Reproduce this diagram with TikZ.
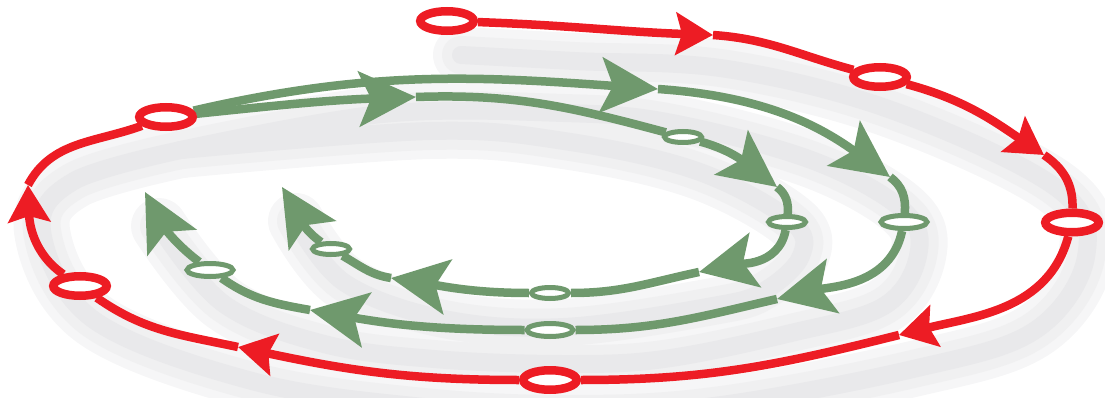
\documentclass[tikz,border=0pt]{standalone}
\usetikzlibrary{arrows.meta,shapes.geometric}
\definecolor{spred}{HTML}{ED1C24}
\definecolor{spgreen}{HTML}{6F996D}
\definecolor{shadeA}{HTML}{F6F6F7}
\definecolor{shadeB}{HTML}{F0F0F1}
\definecolor{shadeC}{HTML}{E9E9EB}
\pgfdeclarelayer{shadowlayer}
\pgfdeclarelayer{linelayer}
\pgfsetlayers{shadowlayer,linelayer,main}
\tikzset{
  redline/.style={draw=spred, line width=8.5pt},
  greenline/.style={draw=spgreen, line width=8.5pt},
  redtip/.style={-{Stealth[length=37pt,width=42pt,inset=6pt]}},
  greentip/.style={-{Stealth[length=57pt,width=55pt,inset=12pt]}},
  redring/.style={ellipse, draw=spred, line width=8.5pt, fill=white, minimum width=53.5pt, minimum height=19.5pt, inner sep=0pt},
  outring/.style={ellipse, draw=spgreen, line width=5pt, fill=white, minimum width=46pt, minimum height=13pt, inner sep=0pt},
  inring/.style={ellipse, draw=spgreen, line width=5pt, fill=white, minimum width=37pt, minimum height=11pt, inner sep=0pt},
  shadeline/.style={line cap=round, line join=round},
}
\begin{document}
\begin{tikzpicture}[x=1pt,y=1pt]
\useasboundingbox (0,0) rectangle (1105,397);
% rings
\node[redring] (R1) at (447,376) {};
\node[redring] (R2) at (880,320) {};
\node[redring] (R3) at (1072,174.5) {};
\node[redring] (R4) at (550,17) {};
\node[redring] (R5) at (80,111) {};
\node[redring] (R6) at (166,280) {};
\node[outring] (G1) at (904,175) {};
\node[outring] (G2) at (550,67) {};
\node[outring] (G3) at (210,127) {};
\node[inring] (H1) at (683,260) {};
\node[inring] (H2) at (787,175) {};
\node[inring] (H3) at (550,104) {};
\node[inring] (H4) at (331,148) {};
% arrow tip positions
\coordinate (a1) at (713,362);
\coordinate (a2) at (1044,242);
\coordinate (a3) at (899,62);
\coordinate (a4) at (238,50);
\coordinate (a5) at (28,212);
\coordinate (g1) at (658,308);
\coordinate (g2) at (890,220);
\coordinate (g3) at (777,98);
\coordinate (g4) at (310,87);
\coordinate (gend) at (145,205);
\coordinate (h1) at (416,300);
\coordinate (h2) at (777,210);
\coordinate (h3) at (699,125);
\coordinate (h4) at (391,119);
\coordinate (hend) at (282,210);
\begin{pgfonlayer}{shadowlayer}
\begin{scope}[shift={(14,-34)}]
\foreach \w/\c in {56/shadeA,38/shadeB,18/shadeC}{
  \draw[shadeline, line width=\w pt, draw=\c] plot[smooth, tension=0.6] coordinates {(447,376) (560,370) (713,362) (880,320) (1044,242) (1072,174) (1020,100) (899,62) (700,25) (550,17) (400,25) (238,50) (80,111) (28,200) (60,250) (167,281)};
  \draw[shadeline, line width=\w pt, draw=\c] plot[smooth, tension=0.6] coordinates {(167,281) (368,317) (550,318) (658,308) (800,270) (890,220) (904,175) (870,125) (777,98) (650,72) (550,67) (420,72) (310,87) (210,127) (145,205)};
  \draw[shadeline, line width=\w pt, draw=\c] plot[smooth, tension=0.6] coordinates {(167,281) (416,300) (550,290) (683,260) (777,210) (787,175) (750,140) (699,125) (550,104) (430,112) (331,148) (282,210)};
}
\end{scope}
\end{pgfonlayer}
\begin{pgfonlayer}{linelayer}
% red spiral
\draw[redline, redtip] (R1) to[out=-2, in=178] (a1);
\draw[redline] (a1) to[out=-4, in=165] (R2);
\draw[redline, redtip] (R2) to[out=-15, in=146] (a2);
\draw[redline] (a2) to[out=-34, in=88] (R3);
\draw[redline, redtip] (R3) to[out=-105, in=14] (a3);
\draw[redline] (a3) to[out=194, in=0] (R4);
\draw[redline, redtip] (R4) to[out=180, in=-12] (a4);
\draw[redline] (a4) to[out=168, in=-35] (R5);
\draw[redline, redtip] (R5) to[out=145, in=-88] (a5);
\draw[redline] (a5) to[out=62, in=200] (R6);
% outer green spiral
\draw[greenline, greentip] (R6) to[out=13, in=176] (g1);
\draw[greenline, greentip] (g1) to[out=-4, in=144] (g2);
\draw[greenline] (g2) to[out=-36, in=85] (G1);
\draw[greenline, greentip] (G1) to[out=-102, in=13] (g3);
\draw[greenline] (g3) to[out=193, in=0] (G2);
\draw[greenline, greentip] (G2) to[out=180, in=-10] (g4);
\draw[greenline] (g4) to[out=170, in=-35] (G3);
\draw[greenline, greentip] (G3) to[out=143, in=-62] (gend);
% inner green spiral
\draw[greenline, greentip] (R6) to[out=6, in=182] (h1);
\draw[greenline] (h1) to[out=2, in=165] (H1);
\draw[greenline, greentip] (H1) to[out=-15, in=143] (h2);
\draw[greenline] (h2) to[out=-37, in=85] (H2);
\draw[greenline, greentip] (H2) to[out=-100, in=12] (h3);
\draw[greenline] (h3) to[out=192, in=0] (H3);
\draw[greenline, greentip] (H3) to[out=180, in=-9] (h4);
\draw[greenline] (h4) to[out=171, in=-30] (H4);
\draw[greenline, greentip] (H4) to[out=145, in=-58] (hend);
\end{pgfonlayer}
\end{tikzpicture}
\end{document}
